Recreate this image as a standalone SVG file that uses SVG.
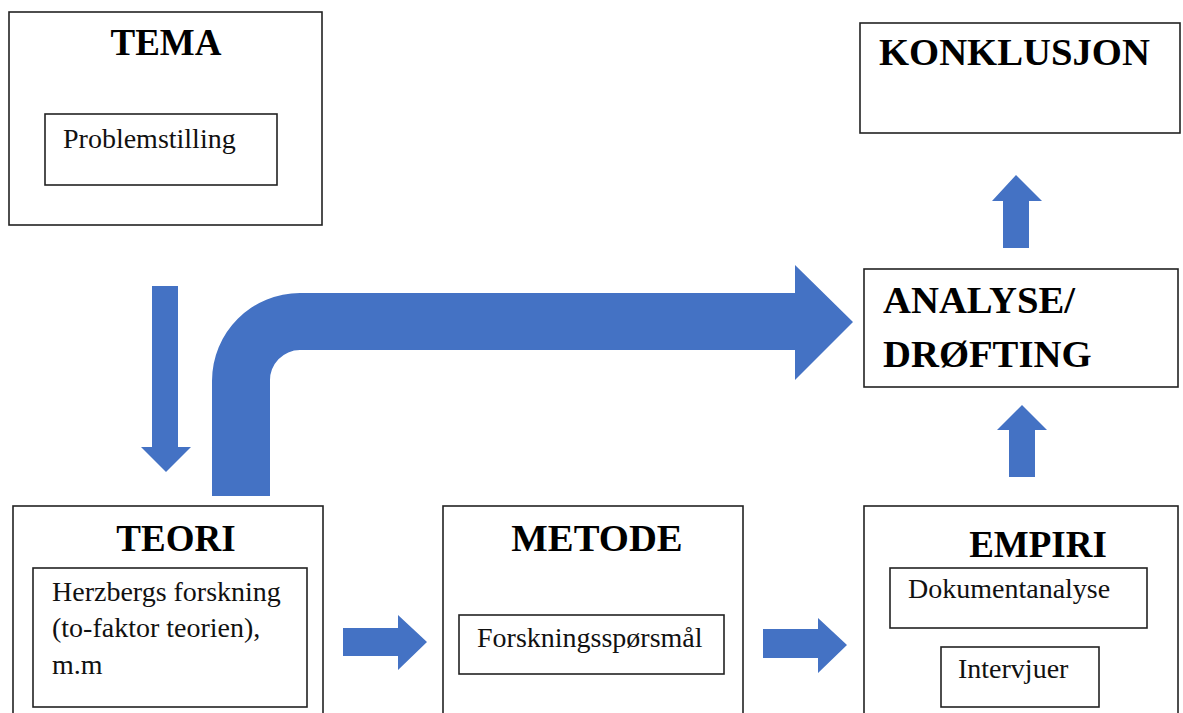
<svg xmlns="http://www.w3.org/2000/svg" width="1183" height="713" viewBox="0 0 1183 713">
<style>
.box{fill:#fff;stroke:#222;stroke-width:1.6}
.h{font-family:'Liberation Serif','DejaVu Serif',serif;font-weight:bold;font-size:37px;fill:#000}
.hl{font-size:38.7px}
.t{font-family:'Liberation Serif','DejaVu Serif',serif;font-size:28px;fill:#111}
.arr{fill:#4472C4}
</style>
<rect width="1183" height="713" fill="#fff"/>
<g id="tema">
<rect class="box" x="9" y="12" width="313" height="213"/>
<text class="h" x="166" y="55" text-anchor="middle">TEMA</text>
<rect class="box" x="45" y="114" width="232" height="71"/>
<text class="t" x="63" y="148">Problemstilling</text>
</g>
<g id="konklusjon">
<rect class="box" x="860" y="23" width="320" height="110"/>
<text class="h hl" x="879" y="65">KONKLUSJON</text>
</g>
<g id="analyse">
<rect class="box" x="864" y="269" width="314" height="118"/>
<text class="h hl" x="883" y="313">ANALYSE/</text>
<text class="h hl" x="883" y="367">DRØFTING</text>
</g>
<g id="teori">
<rect class="box" x="13" y="506" width="310" height="220"/>
<text class="h" x="176" y="551" text-anchor="middle">TEORI</text>
<rect class="box" x="33" y="568" width="274" height="139"/>
<text class="t" x="52" y="601">Herzbergs forskning</text>
<text class="t" x="52" y="637">(to-faktor teorien),</text>
<text class="t" x="52" y="674">m.m</text>
</g>
<g id="metode">
<rect class="box" x="443" y="506" width="300" height="220"/>
<text class="h hl" x="597" y="551" text-anchor="middle">METODE</text>
<rect class="box" x="459" y="615" width="265" height="59"/>
<text class="t" x="477" y="647">Forskningsspørsmål</text>
</g>
<g id="empiri">
<rect class="box" x="864" y="506" width="314" height="220"/>
<text class="h" x="1038" y="557" text-anchor="middle">EMPIRI</text>
<rect class="box" x="890" y="568" width="257" height="60"/>
<text class="t" x="908" y="598">Dokumentanalyse</text>
<rect class="box" x="941" y="647" width="158" height="60"/>
<text class="t" x="958" y="678">Intervjuer</text>
</g>
<g id="connectors">
<polygon class="arr" points="152,286 178,286 178,447 191,447 166,472 141,447 152,447"/>
<path class="arr" d="M212,496 L212,381 A88,88 0 0 1 300,293 L795,293 L795,265 L853,322 L795,380 L795,350 L300,350 A30,30 0 0 0 270,381 L270,496 Z"/>
<polygon class="arr" points="343,628 398,628 398,615 427,642 398,670 398,656 343,656"/>
<polygon class="arr" points="763,629 818,629 818,618 847,645 818,673 818,658 763,658"/>
<polygon class="arr" points="1003,248 1003,201 992,201 1016,175 1042,201 1029,201 1029,248"/>
<polygon class="arr" points="1009,477 1009,430 997,430 1022,405 1047,430 1035,430 1035,477"/>
</g>
</svg>
